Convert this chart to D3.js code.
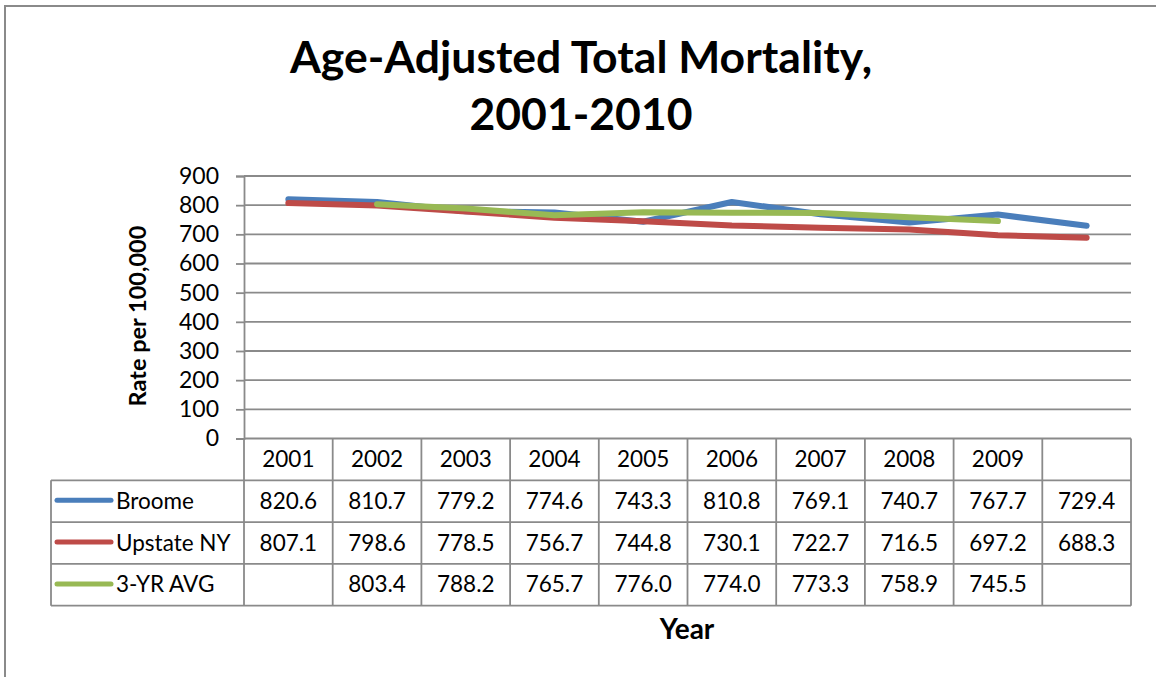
<!DOCTYPE html>
<html>
<head>
<meta charset="utf-8">
<script src="https://cdn.jsdelivr.net/npm/d3@7"></script>
<style>
  body { margin: 0; background: #fff; }
  text { font-family: Lato, "Open Sans", sans-serif; fill: #000; }
</style>
</head>
<body>
<div id="chart"></div>
<script>
// chart values
var years = ["2001", "2002", "2003", "2004", "2005", "2006", "2007", "2008", "2009", "2010"];
var yearLabels = ["2001", "2002", "2003", "2004", "2005", "2006", "2007", "2008", "2009", ""];
var broome = [820.6, 810.7, 779.2, 774.6, 743.3, 810.8, 769.1, 740.7, 767.7, 729.4];
var upstate = [807.1, 798.6, 778.5, 756.7, 744.8, 730.1, 722.7, 716.5, 697.2, 688.3];
var avg3 = [null, 803.4, 788.2, 765.7, 776.0, 774.0, 773.3, 758.9, 745.5, null];
var seriesNames = ["Broome", "Upstate NY", "3-YR AVG"];
var seriesColors = ["#4a7ebb", "#be4b48", "#98b954"];
var yTicks = [0, 100, 200, 300, 400, 500, 600, 700, 800, 900];

var width = 1156, height = 677,
    plotLeft = 244, plotRight = 1131, plotTop = 176, plotBottom = 438.5,
    legendLeft = 51, rowH = 41.8,
    gridColor = "#8a8a8a",
    cellFont = "22.5px";

var svg = d3.select("#chart").append("svg")
  .attr("width", width)
  .attr("height", height);

// outer frame (runs off the right and bottom)
svg.append("path")
  .attr("d", "M5,690 L5,6 L1170,6")
  .attr("fill", "none")
  .attr("stroke", "#8a8a8a")
  .attr("stroke-width", 2);

// title
var title = svg.append("text")
  .attr("text-anchor", "middle")
  .style("font-weight", "bold")
  .style("font-size", "44.5px");
title.append("tspan").attr("x", 581).attr("y", 73).text("Age-Adjusted Total Mortality,");
title.append("tspan").attr("x", 581).attr("y", 130).text("2001-2010");

var x = d3.scaleBand().domain(years).range([plotLeft, plotRight]);
var y = d3.scaleLinear().domain([0, 900]).range([plotBottom, plotTop]);

// gridlines
svg.append("g").selectAll("line")
  .data(yTicks.slice(1))
  .enter().append("line")
  .attr("x1", plotLeft).attr("x2", plotRight)
  .attr("y1", function(d){ return y(d); })
  .attr("y2", function(d){ return y(d); })
  .attr("stroke", gridColor)
  .attr("stroke-width", 1.8);

// y axis
var yAxis = svg.append("g")
  .attr("transform", "translate(" + plotLeft + ",0)")
  .call(d3.axisLeft(y).tickValues(yTicks).tickSize(8).tickPadding(17).tickFormat(d3.format("d")));
yAxis.select(".domain").attr("stroke", gridColor).attr("stroke-width", 1.8);
yAxis.selectAll(".tick line").attr("stroke", gridColor).attr("stroke-width", 1.8);
yAxis.selectAll(".tick text")
  .style("font-size", "23px")
  .style("font-family", "Lato, sans-serif")
  .attr("fill", "#000");

// y axis title
svg.append("text")
  .attr("transform", "translate(146,316) rotate(-90)")
  .attr("text-anchor", "middle")
  .style("font-weight", "bold")
  .style("font-size", "23.5px")
  .text("Rate per 100,000");

// lines
var line = d3.line()
  .defined(function(d){ return d != null; })
  .x(function(d, i){ return x(years[i]) + x.bandwidth() / 2; })
  .y(function(d){ return y(d); });

var allSeries = [broome, upstate, avg3];
svg.append("g").selectAll("path")
  .data(allSeries)
  .enter().append("path")
  .attr("d", function(d){ return line(d); })
  .attr("fill", "none")
  .attr("stroke", function(d, i){ return seriesColors[i]; })
  .attr("stroke-width", 6)
  .attr("stroke-linecap", "round")
  .attr("stroke-linejoin", "round");

// data table
var table = svg.append("g");
var tableBottom = plotBottom + rowH * 4;

// horizontal rules
var hRows = [0, 1, 2, 3, 4];
table.selectAll("line.h")
  .data(hRows)
  .enter().append("line")
  .attr("class", "h")
  .attr("x1", function(d){ return d == 0 ? plotLeft : legendLeft; })
  .attr("x2", plotRight)
  .attr("y1", function(d){ return plotBottom + d * rowH; })
  .attr("y2", function(d){ return plotBottom + d * rowH; })
  .attr("stroke", gridColor)
  .attr("stroke-width", 1.8);

// vertical rules
var cols = years.map(function(d){ return x(d); }).concat([plotRight]);
table.selectAll("line.v")
  .data(cols)
  .enter().append("line")
  .attr("class", "v")
  .attr("x1", function(d){ return d; })
  .attr("x2", function(d){ return d; })
  .attr("y1", plotBottom)
  .attr("y2", tableBottom)
  .attr("stroke", gridColor)
  .attr("stroke-width", 1.8);
table.append("line")
  .attr("x1", legendLeft).attr("x2", legendLeft)
  .attr("y1", plotBottom + rowH).attr("y2", tableBottom)
  .attr("stroke", gridColor)
  .attr("stroke-width", 1.8);

// header row
table.selectAll("text.yr")
  .data(yearLabels)
  .enter().append("text")
  .attr("class", "yr")
  .attr("text-anchor", "middle")
  .attr("x", function(d, i){ return x(years[i]) + x.bandwidth() / 2; })
  .attr("y", plotBottom + 28.5)
  .style("font-size", cellFont)
  .text(function(d){ return d; });

// series rows
allSeries.forEach(function(vals, r) {
  var rowTop = plotBottom + rowH * (r + 1);
  table.append("line")
    .attr("x1", 57).attr("x2", 111)
    .attr("y1", rowTop + 20).attr("y2", rowTop + 20)
    .attr("stroke", seriesColors[r])
    .attr("stroke-width", 5)
    .attr("stroke-linecap", "round");
  table.append("text")
    .attr("x", 116)
    .attr("y", rowTop + 28.5)
    .style("font-size", cellFont)
    .text(seriesNames[r]);
  table.selectAll("text.v" + r)
    .data(vals)
    .enter().append("text")
    .attr("class", "v" + r)
    .attr("text-anchor", "middle")
    .attr("x", function(d, i){ return x(years[i]) + x.bandwidth() / 2; })
    .attr("y", rowTop + 28.5)
    .style("font-size", cellFont)
    .text(function(d){ return d == null ? "" : d.toFixed(1); });
});

// x axis title
svg.append("text")
  .attr("x", 687)
  .attr("y", 639)
  .attr("text-anchor", "middle")
  .style("font-weight", "bold")
  .style("font-size", "28px")
  .text("Year");
</script>
</body>
</html>
